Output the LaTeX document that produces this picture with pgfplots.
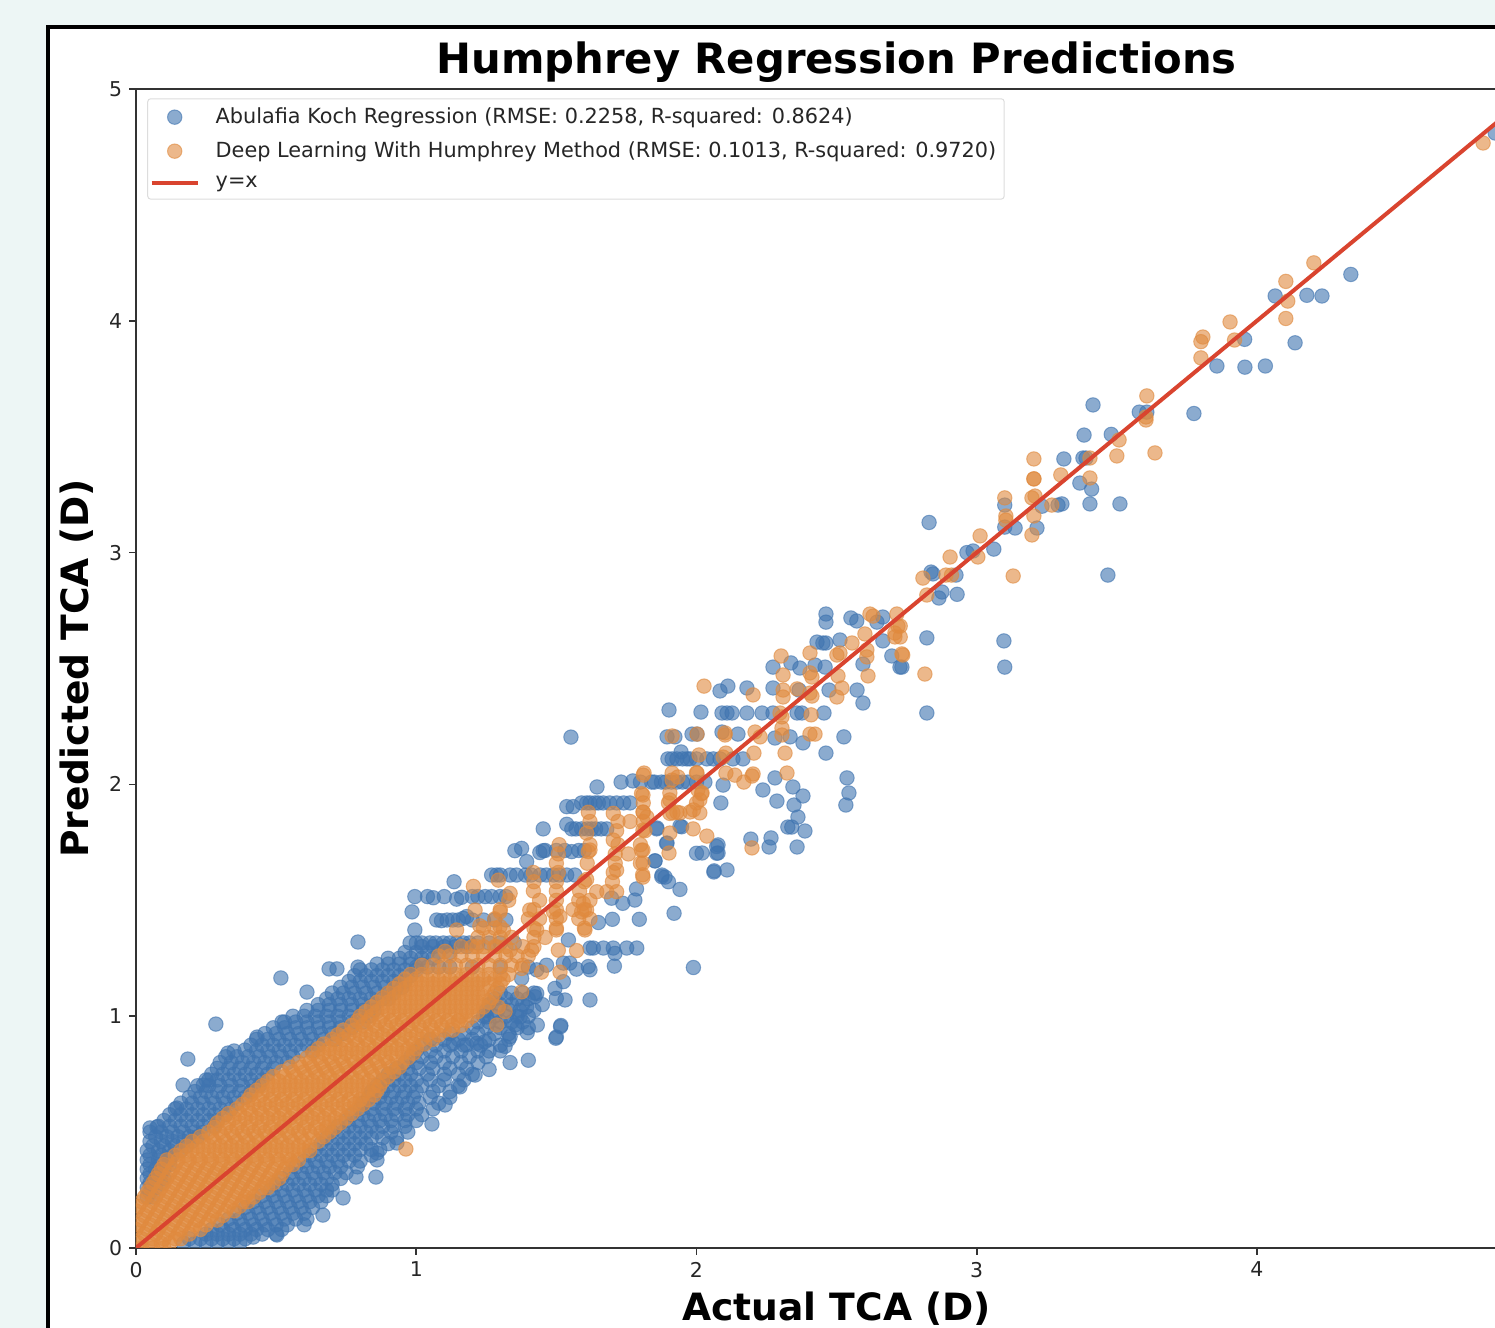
\documentclass[border=0pt]{standalone}
\usepackage{fontspec}
\setmainfont{DejaVu Sans}
\usepackage{pgfplots}
\pgfplotsset{compat=1.18}
\definecolor{bgc}{HTML}{EDF6F5}
\definecolor{bluec}{HTML}{3F74B0}
\definecolor{orangec}{HTML}{E08A3E}
\definecolor{redc}{HTML}{D9442F}
\definecolor{axc}{HTML}{333333}
\definecolor{legc}{HTML}{DDDDDD}
\pgfplotsset{
  markleg/.style={legend image code/.code={\draw[mark repeat=2,mark phase=2,##1] plot coordinates {(-1pt,0pt)(10.5pt,0pt)(22pt,0pt)};}},
  lineleg/.style={legend image code/.code={\draw[##1] (-1pt,0pt) -- (22pt,0pt);}},
}
\begin{document}
\begin{tikzpicture}
\path[use as bounding box,clip] (0,0) rectangle (747.5pt,664pt);
\fill[bgc] (0,0) rectangle (747.5pt,664pt);
\fill[white,draw=black,line width=2pt] (24pt,-5pt) rectangle (760pt,650.5pt);
\begin{axis}[
  at={(68pt,40pt)},anchor=south west,scale only axis,
  width=700.6pt,height=579.5pt,
  xmin=0,xmax=5,ymin=0,ymax=5,
  xtick={0,1,2,3,4},ytick={0,1,2,3,4,5},
  tick align=outside,tick pos=left,
  major tick length=3.4pt,
  axis line style={axc,line width=0.8pt},
  tick style={axc,line width=0.8pt},
  ticklabel style={font=\fontsize{10.2}{12}\selectfont,text=black!85},
  /pgf/number format/assume math mode=true,
  clip marker paths=true,
  title={\fontsize{20.87}{24}\selectfont\bfseries Humphrey Regression Predictions},
  title style={at={(axis description cs:0.5,1)},anchor=south,yshift=-6.5pt},
  xlabel={\fontsize{18.8}{22}\selectfont\bfseries Actual TCA (D)},
  ylabel={\fontsize{18.8}{22}\selectfont\bfseries Predicted TCA (D)},
  xlabel style={at={(axis description cs:0.5,0)},anchor=north,yshift=-18.5pt},
  ylabel style={at={(axis description cs:0,0.5)},anchor=south,yshift=17.5pt},
  legend style={at={(axis cs:0.04,4.96)},anchor=north west,draw=legc,line width=0.5pt,rounded corners=1.5pt,
    font=\fontsize{10.4}{12}\selectfont,text=black!85,inner xsep=1pt,inner ysep=2.5pt,
    row sep=3.6pt},
  legend cell align=left,
]
\addplot[only marks,mark=*,mark size=3.6pt,
  mark options={draw=bluec,fill=bluec,draw opacity=0.6,fill opacity=0.6,line width=0.5pt},markleg]
coordinates {
(3.775,3.60)(3.857,3.805)(3.957,3.80)(4.03,3.805)(4.136,3.905)(3.956,3.92)(4.065,4.107)(4.178,4.11)(4.232,4.107)(4.335,4.20)(4.85,4.81)
(3.415,3.637)(3.58,3.606)(3.607,3.606)(3.383,3.507)(3.48,3.51)(3.311,3.404)(3.379,3.408)(3.39,3.408)(3.368,3.30)(3.41,3.274)(3.404,3.21)(3.511,3.21)(3.468,2.903)(3.304,3.21)(3.29,3.205)(3.233,3.20)(3.10,3.205)(3.215,3.106)(3.137,3.106)(3.10,3.11)(2.83,3.13)(3.061,3.015)(2.987,3.007)(2.965,3.00)(2.926,2.903)(2.837,2.916)(2.844,2.908)(2.93,2.82)(2.876,2.83)(2.865,2.804)(2.822,2.632)(3.097,2.619)(3.10,2.506)(2.733,2.506)(2.822,2.308)
(2.462,2.735)(2.462,2.70)(2.551,2.718)(2.572,2.705)(2.644,2.70)(2.665,2.722)(2.43,2.614)(2.451,2.61)(2.462,2.61)(2.512,2.623)(2.665,2.619)(2.273,2.506)(2.337,2.524)(2.369,2.502)(2.423,2.515)(2.459,2.506)(2.273,2.416)(2.366,2.407)(2.473,2.407)(2.573,2.407)(2.594,2.351)(2.594,2.519)(2.697,2.554)(2.726,2.506)(2.084,2.403)(2.112,2.424)(2.18,2.416)(1.902,2.321)(2.016,2.312)
(2.091,2.308)(2.109,2.308)(2.127,2.308)(2.18,2.308)(2.234,2.308)(2.273,2.308)(2.359,2.308)(2.376,2.308)(2.455,2.308)
(1.895,2.205)(1.923,2.205)(1.984,2.217)(2.002,2.217)(2.091,2.226)(2.148,2.217)(2.28,2.20)(2.334,2.205)(2.38,2.179)(2.526,2.205)(2.462,2.135)(1.945,2.14)
(1.898,2.11)(1.913,2.11)(1.966,2.11)(1.977,2.11)(2.037,2.11)(2.084,2.11)(2.13,2.11)(2.166,2.11)
(2.095,1.997)(2.28,2.028)(2.237,1.976)(2.344,1.989)(2.38,1.95)(2.287,1.928)(2.348,1.911)(2.087,1.92)(2.537,2.028)(2.544,1.963)(2.533,1.911)(2.362,1.859)(2.326,1.816)(2.34,1.816)(2.387,1.799)(2.194,1.764)(2.266,1.769)(2.259,1.73)(2.359,1.73)(2.077,1.739)(2.077,1.704)(2.02,1.704)(2.062,1.622)(2.109,1.631)(1.852,1.67)(1.877,1.609)(1.888,1.60)(1.941,1.82)(1.895,1.747)(1.859,1.812)
(1.80,2.01)(1.84,2.01)(1.875,2.01)(1.91,2.01)(1.95,2.01)(2.0,2.01)(2.03,2.01)
(1.645,1.989)(1.731,2.01)(1.773,2.015)
(1.608,1.92)(1.638,1.92)(1.667,1.92)(1.715,1.92)(1.763,1.92)(1.537,1.904)(1.56,1.904)
(1.453,1.808)(1.537,1.828)(1.555,1.808)(1.59,1.808)(1.625,1.808)(1.66,1.808)(1.858,1.808)
(1.352,1.714)(1.376,1.724)(1.441,1.706)(1.453,1.714)(1.555,1.71)(1.394,1.667)
(1.269,1.609)(1.287,1.609)(1.335,1.609)(1.358,1.609)(1.442,1.609)(1.465,1.609)(1.537,1.609)(1.566,1.609)
(1.135,1.58)(0.995,1.516)(1.061,1.511)(1.10,1.516)(1.162,1.513)(1.144,1.505)(1.246,1.516)(1.269,1.516)(1.299,1.516)(0.985,1.45)(1.073,1.415)(1.09,1.412)(1.168,1.422)(1.18,1.43)
(0.978,1.316)(1.0,1.316)(1.049,1.316)(1.097,1.316)(1.144,1.316)(1.168,1.316)(0.995,1.372)(0.792,1.32)
(1.30,1.609)(1.39,1.609)(1.41,1.609)(1.49,1.609)(1.51,1.609)(1.04,1.516)(1.20,1.516)(1.22,1.516)(1.32,1.516)
(1.11,1.415)(1.13,1.415)(1.15,1.415)(1.20,1.415)(1.24,1.415)(1.28,1.415)(1.32,1.415)(1.46,1.715)(1.50,1.715)(1.53,1.715)(1.58,1.715)(1.60,1.715)
(1.57,1.808)(1.61,1.808)(1.64,1.808)(1.68,1.808)(1.59,1.92)(1.62,1.92)(1.65,1.92)(1.69,1.92)(1.74,1.92)
(1.02,1.316)(1.07,1.316)(1.12,1.316)(1.19,1.316)(1.22,1.316)(1.26,1.316)(1.30,1.316)(1.35,1.316)
(1.00,1.212)(1.04,1.212)(1.08,1.212)(1.12,1.212)(1.20,1.212)(1.30,1.212)(1.40,1.212)(1.85,2.01)(1.89,2.01)(1.93,2.01)(1.97,2.01)(1.93,2.11)(1.95,2.11)(2.00,2.11)(2.06,2.11)
(1.65,1.404)(1.7,1.418)(1.796,1.418)(1.92,1.444)(1.941,1.547)(1.786,1.549)(1.78,1.501)(1.737,1.487)(1.697,1.509)(1.876,1.602)(1.9,1.58)(1.852,1.67)(2.0,1.703)(2.063,1.627)(2.072,1.703)(2.072,1.732)(1.893,1.746)(1.947,1.817)(1.552,2.204)
(1.543,1.329)(1.62,1.294)(1.632,1.294)(1.668,1.294)(1.703,1.294)(1.751,1.294)(1.787,1.294)(1.709,1.271)(1.707,1.216)(1.989,1.21)(1.614,1.214)(1.62,1.2)(1.572,1.203)(1.548,1.229)(1.525,1.229)(1.465,1.22)(1.43,1.2)(1.376,1.163)(1.525,1.149)(1.495,1.12)(1.5,1.077)(1.531,1.07)(1.43,1.098)(1.424,1.084)(1.62,1.07)(1.515,0.955)(1.498,0.905)(1.394,1.04)(1.371,0.997)(1.432,0.962)(1.396,0.929)(1.352,0.962)(1.335,0.912)(1.317,0.87)(1.245,0.89)(1.251,0.997)(1.132,0.883)(1.18,0.876)(1.216,0.883)
(0.517,1.165)(0.61,1.104)(0.285,0.966)(0.185,0.815)(0.168,0.703)(0.24,0.703)(0.26,0.725)(0.689,1.204)(0.717,1.204)(0.792,1.212)(0.521,0.975)(0.432,0.91)(0.328,0.841)(0.389,0.854)(0.05,0.518)(0.075,0.522)(0.146,0.604)
(1.056,0.535)(0.931,0.453)(0.86,0.41)(0.86,0.38)(0.785,0.306)(0.856,0.306)(0.739,0.216)(0.667,0.142)(1.103,0.617)(1.156,0.695)(1.21,0.746)(0.503,0.056)(0.418,0.047)
(0.04,0.22)(0.06,0.22)(0.04,0.26)(0.07,0.26)(0.04,0.30)(0.07,0.30)(0.10,0.30)(0.04,0.34)(0.07,0.34)(0.10,0.34)(0.04,0.38)(0.08,0.38)(0.12,0.38)
(0.04,0.42)(0.08,0.42)(0.12,0.42)(0.16,0.42)(0.05,0.46)(0.09,0.46)(0.13,0.46)(0.17,0.46)(0.20,0.46)(0.05,0.50)(0.09,0.50)(0.13,0.50)(0.17,0.50)(0.21,0.50)(0.24,0.50)
(0.10,0.55)(0.14,0.55)(0.18,0.55)(0.22,0.55)(0.26,0.55)(0.29,0.55)(0.14,0.60)(0.18,0.60)(0.22,0.60)(0.26,0.60)(0.30,0.60)(0.34,0.60)
(0.19,0.65)(0.23,0.65)(0.27,0.65)(0.31,0.65)(0.35,0.65)(0.39,0.65)(0.22,0.70)(0.26,0.70)(0.30,0.70)(0.34,0.70)(0.38,0.70)(0.42,0.70)(0.44,0.70)
(0.27,0.75)(0.31,0.75)(0.35,0.75)(0.39,0.75)(0.43,0.75)(0.47,0.75)(0.30,0.80)(0.34,0.80)(0.38,0.80)(0.42,0.80)(0.46,0.80)(0.50,0.80)(0.54,0.80)
(0.35,0.85)(0.43,0.85)(0.47,0.85)(0.51,0.85)(0.55,0.85)(0.59,0.85)(0.63,0.85)(0.43,0.90)(0.47,0.90)(0.51,0.90)(0.55,0.90)(0.59,0.90)(0.63,0.90)(0.67,0.90)(0.71,0.90)
(0.49,0.95)(0.53,0.95)(0.57,0.95)(0.61,0.95)(0.65,0.95)(0.69,0.95)(0.73,0.95)(0.77,0.95)(0.56,1.00)(0.60,1.00)(0.64,1.00)(0.68,1.00)(0.72,1.00)(0.76,1.00)(0.80,1.00)(0.83,1.00)
(0.65,1.05)(0.69,1.05)(0.73,1.05)(0.77,1.05)(0.81,1.05)(0.85,1.05)(0.70,1.10)(0.74,1.10)(0.78,1.10)(0.82,1.10)(0.86,1.10)(0.90,1.10)(0.92,1.10)
(0.76,1.15)(0.80,1.15)(0.84,1.15)(0.88,1.15)(0.92,1.15)(0.96,1.15)(0.80,1.20)(0.84,1.20)(0.88,1.20)(0.92,1.20)(0.96,1.20)(1.00,1.20)
(0.90,1.25)(0.94,1.25)(0.98,1.25)(1.02,1.25)(1.06,1.25)(1.02,1.30)(1.06,1.30)(1.10,1.30)(1.14,1.30)(1.18,1.30)
(0.05,0.24)(0.05,0.28)(0.09,0.28)(0.05,0.32)(0.09,0.32)(0.05,0.36)(0.09,0.36)(0.12,0.36)(0.05,0.40)(0.09,0.40)(0.13,0.40)(0.06,0.44)(0.10,0.44)(0.14,0.44)(0.18,0.44)
(0.07,0.48)(0.11,0.48)(0.15,0.48)(0.19,0.48)(0.22,0.48)(0.08,0.525)(0.12,0.525)(0.16,0.525)(0.20,0.525)(0.24,0.525)(0.28,0.525)(0.12,0.575)(0.16,0.575)(0.20,0.575)(0.24,0.575)(0.28,0.575)(0.32,0.575)
(0.16,0.625)(0.20,0.625)(0.24,0.625)(0.28,0.625)(0.32,0.625)(0.36,0.625)(0.21,0.675)(0.25,0.675)(0.29,0.675)(0.33,0.675)(0.37,0.675)(0.41,0.675)(0.25,0.725)(0.29,0.725)(0.33,0.725)(0.37,0.725)(0.41,0.725)(0.45,0.725)
(0.29,0.775)(0.33,0.775)(0.37,0.775)(0.41,0.775)(0.45,0.775)(0.49,0.775)(0.32,0.825)(0.36,0.825)(0.40,0.825)(0.44,0.825)(0.48,0.825)(0.52,0.825)(0.56,0.825)
(0.41,0.875)(0.45,0.875)(0.49,0.875)(0.53,0.875)(0.57,0.875)(0.61,0.875)(0.65,0.875)(0.46,0.925)(0.50,0.925)(0.54,0.925)(0.58,0.925)(0.62,0.925)(0.66,0.925)(0.70,0.925)(0.74,0.925)
(0.53,0.975)(0.57,0.975)(0.61,0.975)(0.65,0.975)(0.69,0.975)(0.73,0.975)(0.77,0.975)(0.81,0.975)(0.61,1.025)(0.65,1.025)(0.69,1.025)(0.73,1.025)(0.77,1.025)(0.81,1.025)(0.85,1.025)
(0.68,1.075)(0.72,1.075)(0.76,1.075)(0.80,1.075)(0.84,1.075)(0.88,1.075)(0.90,1.075)(0.73,1.125)(0.77,1.125)(0.81,1.125)(0.85,1.125)(0.89,1.125)(0.93,1.125)(0.95,1.125)
(0.78,1.175)(0.82,1.175)(0.86,1.175)(0.90,1.175)(0.94,1.175)(0.98,1.175)(0.86,1.225)(0.90,1.225)(0.94,1.225)(0.98,1.225)(1.02,1.225)(0.96,1.275)(1.00,1.275)(1.04,1.275)(1.08,1.275)(1.12,1.275)
(0.17,0.02)(0.21,0.02)(0.25,0.02)(0.29,0.02)(0.33,0.02)(0.37,0.02)(0.25,0.06)(0.29,0.06)(0.33,0.06)(0.37,0.06)(0.41,0.06)(0.45,0.06)(0.50,0.06)
(0.30,0.10)(0.34,0.10)(0.38,0.10)(0.42,0.10)(0.46,0.10)(0.50,0.10)(0.54,0.10)(0.60,0.10)(0.36,0.15)(0.40,0.15)(0.44,0.15)(0.48,0.15)(0.52,0.15)(0.56,0.15)(0.60,0.15)
(0.42,0.20)(0.46,0.20)(0.50,0.20)(0.54,0.20)(0.58,0.20)(0.62,0.20)(0.66,0.20)(0.48,0.25)(0.52,0.25)(0.56,0.25)(0.60,0.25)(0.64,0.25)(0.68,0.25)(0.70,0.25)
(0.52,0.30)(0.56,0.30)(0.60,0.30)(0.64,0.30)(0.68,0.30)(0.73,0.30)(0.57,0.35)(0.61,0.35)(0.65,0.35)(0.69,0.35)(0.73,0.35)(0.79,0.35)
(0.62,0.40)(0.66,0.40)(0.70,0.40)(0.74,0.40)(0.78,0.40)(0.84,0.40)(0.66,0.45)(0.70,0.45)(0.74,0.45)(0.78,0.45)(0.82,0.45)(0.90,0.45)
(0.70,0.50)(0.74,0.50)(0.78,0.50)(0.82,0.50)(0.86,0.50)(0.91,0.50)(0.97,0.50)(0.75,0.55)(0.79,0.55)(0.83,0.55)(0.87,0.55)(0.91,0.55)(0.96,0.55)(1.00,0.55)
(0.80,0.60)(0.84,0.60)(0.88,0.60)(0.92,0.60)(0.96,0.60)(1.00,0.60)(1.06,0.60)(0.83,0.65)(0.87,0.65)(0.91,0.65)(0.95,0.65)(0.99,0.65)(1.05,0.65)(1.12,0.65)
(0.86,0.70)(0.90,0.70)(0.94,0.70)(0.98,0.70)(1.02,0.70)(1.08,0.70)(1.15,0.70)(0.90,0.75)(0.94,0.75)(0.98,0.75)(1.04,0.75)(1.10,0.75)(1.15,0.75)(1.20,0.75)(1.26,0.77)
(0.96,0.80)(1.00,0.80)(1.05,0.80)(1.10,0.80)(1.16,0.80)(1.22,0.80)(1.335,0.80)(1.40,0.81)(1.00,0.85)(1.05,0.85)(1.10,0.85)(1.16,0.85)(1.22,0.85)(1.26,0.85)(1.30,0.85)
(1.05,0.90)(1.10,0.90)(1.15,0.90)(1.20,0.90)(1.26,0.90)(1.33,0.90)(1.50,0.91)(1.516,0.96)(1.20,0.95)(1.25,0.95)(1.30,0.95)(1.36,0.95)(1.40,0.95)
(1.24,1.00)(1.28,1.00)(1.32,1.00)(1.36,1.00)(1.40,1.00)(1.26,1.05)(1.30,1.05)(1.34,1.05)(1.38,1.05)(1.45,1.05)(1.30,1.10)(1.34,1.10)(1.38,1.10)(1.42,1.10)
(0.19,0.04)(0.23,0.04)(0.27,0.04)(0.31,0.04)(0.35,0.04)(0.39,0.04)(0.27,0.08)(0.31,0.08)(0.35,0.08)(0.39,0.08)(0.43,0.08)(0.47,0.08)(0.52,0.08)
(0.33,0.125)(0.37,0.125)(0.41,0.125)(0.45,0.125)(0.49,0.125)(0.53,0.125)(0.57,0.125)(0.61,0.125)(0.39,0.175)(0.43,0.175)(0.47,0.175)(0.51,0.175)(0.55,0.175)(0.59,0.175)(0.63,0.175)
(0.45,0.225)(0.49,0.225)(0.53,0.225)(0.57,0.225)(0.61,0.225)(0.65,0.225)(0.68,0.225)(0.50,0.275)(0.54,0.275)(0.58,0.275)(0.62,0.275)(0.66,0.275)(0.70,0.275)
(0.55,0.325)(0.59,0.325)(0.63,0.325)(0.67,0.325)(0.71,0.325)(0.75,0.325)(0.60,0.375)(0.64,0.375)(0.68,0.375)(0.72,0.375)(0.76,0.375)(0.80,0.375)
(0.64,0.425)(0.68,0.425)(0.72,0.425)(0.76,0.425)(0.80,0.425)(0.84,0.425)(0.87,0.425)(0.68,0.475)(0.72,0.475)(0.76,0.475)(0.80,0.475)(0.84,0.475)(0.88,0.475)(0.93,0.475)
(0.72,0.525)(0.76,0.525)(0.80,0.525)(0.84,0.525)(0.88,0.525)(0.92,0.525)(0.96,0.525)(0.77,0.575)(0.81,0.575)(0.85,0.575)(0.89,0.575)(0.93,0.575)(0.97,0.575)(1.02,0.575)
(0.81,0.625)(0.85,0.625)(0.89,0.625)(0.93,0.625)(0.97,0.625)(1.01,0.625)(1.08,0.625)(0.84,0.675)(0.88,0.675)(0.92,0.675)(0.96,0.675)(1.00,0.675)(1.06,0.675)(1.12,0.675)
(0.88,0.725)(0.92,0.725)(0.96,0.725)(1.00,0.725)(1.05,0.725)(1.10,0.725)(1.17,0.725)(0.93,0.775)(0.97,0.775)(1.01,0.775)(1.06,0.775)(1.12,0.775)(1.18,0.775)
(0.98,0.825)(1.02,0.825)(1.07,0.825)(1.13,0.825)(1.19,0.825)(1.25,0.825)(1.02,0.875)(1.07,0.875)(1.12,0.875)(1.17,0.875)(1.23,0.875)(1.30,0.875)
(1.12,0.925)(1.17,0.925)(1.22,0.925)(1.28,0.925)(1.33,0.925)(1.22,0.975)(1.26,0.975)(1.30,0.975)(1.34,0.975)(1.38,0.975)(1.25,1.025)(1.29,1.025)(1.33,1.025)(1.37,1.025)(1.42,1.025)(1.28,1.075)(1.32,1.075)(1.36,1.075)(1.40,1.075)
};
\addlegendentry{\hspace*{6pt}Abulafia Koch Regression (RMSE: 0.2258, R-squared: 0.8624)}
\addplot[only marks,mark=*,mark size=3.6pt,
  mark options={draw=orangec,fill=orangec,draw opacity=0.6,fill opacity=0.6,line width=0.5pt},markleg]
coordinates {
(4.807,4.767)(4.203,4.25)(4.103,4.17)(4.11,4.085)(4.103,4.01)(3.904,3.995)(3.92,3.917)(3.807,3.93)(3.80,3.91)(3.80,3.84)
(3.607,3.676)(3.604,3.572)(3.604,3.585)(3.508,3.486)(3.50,3.417)(3.636,3.43)(3.204,3.404)(3.204,3.318)(3.204,3.318)(3.30,3.335)(3.404,3.408)(3.404,3.322)(3.208,3.244)(3.197,3.236)(3.10,3.236)(3.204,3.158)(3.104,3.158)(3.104,3.14)(3.268,3.205)(3.197,3.076)(3.012,3.072)(2.905,2.981)(3.004,2.981)(2.808,2.89)(2.91,2.903)(2.89,2.903)(3.13,2.899)(2.822,2.817)(2.727,2.683)(2.727,2.636)(2.736,2.558)(2.815,2.476)
(2.619,2.735)(2.63,2.726)(2.715,2.735)(2.719,2.683)(2.708,2.653)(2.708,2.636)(2.601,2.649)(2.555,2.61)(2.512,2.567)(2.501,2.558)(2.405,2.567)(2.302,2.554)(2.608,2.58)(2.608,2.55)(2.733,2.563)(2.612,2.468)(2.505,2.468)(2.405,2.481)(2.412,2.463)(2.309,2.472)(2.519,2.416)(2.501,2.377)(2.412,2.381)(2.405,2.394)(2.309,2.407)(2.309,2.377)(2.359,2.412)(2.202,2.386)(2.027,2.424)(2.298,2.308)(2.305,2.291)(2.409,2.30)(2.305,2.243)(2.305,2.213)(2.405,2.217)(2.423,2.217)(2.209,2.226)(2.227,2.205)(2.102,2.213)(2.102,2.222)(2.002,2.217)(1.913,2.209)(2.205,2.135)(2.316,2.135)(2.105,2.135)(2.095,2.118)(2.009,2.127)(2.323,2.049)(2.202,2.045)(2.198,2.036)(2.169,2.01)(2.137,2.04)(2.105,2.049)(1.813,2.049)(1.913,2.049)(1.913,2.019)(1.934,2.032)(2.002,2.049)(2.005,1.976)(2.02,1.963)(2.012,1.933)(1.905,1.963)(1.905,1.933)(1.809,1.954)(2.012,1.877)(1.977,1.881)(1.916,1.877)(1.941,1.877)(1.809,1.881)(1.823,1.859)(1.988,1.808)(2.037,1.777)(1.905,1.79)(1.902,1.704)(2.198,1.726)(1.809,1.803)(1.809,1.717)(1.809,1.661)(1.809,1.60)
(1.204,1.56)(1.81,2.04)(1.804,1.96)(1.81,1.88)(1.905,1.875)(1.93,1.88)(2.0,2.05)(2.018,1.96)(1.989,1.89)(1.614,1.88)(1.703,1.875)(1.763,1.84)(1.608,1.79)(1.715,1.8)(1.703,1.76)(1.816,1.8)(1.804,1.716)(1.757,1.7)(1.614,1.71)(1.62,1.717)(1.71,1.7)(1.715,1.63)(1.703,1.62)(1.808,1.61)(1.507,1.7)(1.507,1.62)(1.418,1.62)(1.293,1.587)(1.418,1.54)(1.5,1.54)(1.583,1.54)(1.644,1.537)(1.68,1.537)(1.715,1.537)(1.335,1.53)(1.608,1.59)(1.596,1.487)(1.405,1.458)(1.49,1.45)(1.513,1.43)(1.59,1.45)(1.608,1.458)(1.299,1.45)(1.21,1.458)(1.43,1.372)(1.5,1.372)(1.602,1.372)(1.144,1.372)(1.311,1.372)(1.227,1.39)(1.299,1.387)(1.412,1.285)(1.507,1.285)(1.572,1.283)(1.216,1.3)(1.287,1.3)(1.335,1.285)(1.103,1.28)(1.447,1.19)(1.513,1.19)(1.376,1.206)(1.376,1.105)(1.293,1.04)(1.317,1.02)(1.287,0.962)(0.963,0.427)
(1.02,1.22)(1.06,1.22)(1.10,1.22)(1.14,1.22)(1.18,1.22)(1.22,1.22)(1.26,1.22)(1.30,1.22)(1.34,1.22)(1.38,1.22)(1.08,1.26)(1.12,1.26)(1.16,1.26)(1.20,1.26)(1.24,1.26)(1.28,1.26)(1.32,1.26)(1.36,1.26)(1.40,1.26)
(1.16,1.30)(1.20,1.30)(1.24,1.30)(1.28,1.30)(1.32,1.30)(1.38,1.30)(1.42,1.30)(1.22,1.34)(1.26,1.34)(1.30,1.34)(1.34,1.34)(1.42,1.34)(1.46,1.34)(1.24,1.38)(1.28,1.38)(1.42,1.38)(1.50,1.38)(1.60,1.38)
(1.28,1.42)(1.40,1.42)(1.44,1.42)(1.50,1.42)(1.58,1.42)(1.62,1.42)(1.30,1.46)(1.42,1.46)(1.50,1.46)(1.56,1.46)(1.60,1.46)(1.33,1.50)(1.44,1.50)(1.50,1.50)(1.58,1.50)(1.62,1.50)
(1.42,1.58)(1.50,1.58)(1.60,1.58)(1.70,1.58)(1.50,1.66)(1.61,1.66)(1.71,1.66)(1.80,1.66)(1.51,1.74)(1.62,1.74)(1.72,1.74)(1.80,1.74)(1.62,1.84)(1.72,1.84)(1.81,1.84)(1.81,1.92)(1.90,1.92)(2.00,1.92)
(0.01,0.02)(0.05,0.02)(0.09,0.02)(0.12,0.02)
(0.03,0.06)(0.07,0.06)(0.11,0.06)(0.15,0.06)(0.19,0.06)
(0.01,0.10)(0.05,0.10)(0.09,0.10)(0.13,0.10)(0.17,0.10)(0.21,0.10)(0.25,0.10)
(0.03,0.14)(0.07,0.14)(0.11,0.14)(0.15,0.14)(0.19,0.14)(0.23,0.14)(0.27,0.14)(0.31,0.14)
(0.01,0.18)(0.05,0.18)(0.09,0.18)(0.13,0.18)(0.17,0.18)(0.21,0.18)(0.25,0.18)(0.29,0.18)(0.33,0.18)(0.37,0.18)
(0.03,0.22)(0.07,0.22)(0.11,0.22)(0.15,0.22)(0.19,0.22)(0.23,0.22)(0.27,0.22)(0.31,0.22)(0.35,0.22)(0.39,0.22)(0.42,0.22)
(0.05,0.26)(0.09,0.26)(0.13,0.26)(0.17,0.26)(0.21,0.26)(0.25,0.26)(0.29,0.26)(0.33,0.26)(0.37,0.26)(0.41,0.26)(0.45,0.26)(0.47,0.26)
(0.07,0.30)(0.11,0.30)(0.15,0.30)(0.19,0.30)(0.23,0.30)(0.27,0.30)(0.31,0.30)(0.35,0.30)(0.39,0.30)(0.43,0.30)(0.47,0.30)(0.51,0.30)
(0.09,0.34)(0.13,0.34)(0.17,0.34)(0.21,0.34)(0.25,0.34)(0.29,0.34)(0.33,0.34)(0.37,0.34)(0.41,0.34)(0.45,0.34)(0.49,0.34)(0.53,0.34)
(0.11,0.38)(0.15,0.38)(0.19,0.38)(0.23,0.38)(0.27,0.38)(0.31,0.38)(0.35,0.38)(0.39,0.38)(0.43,0.38)(0.47,0.38)(0.51,0.38)(0.55,0.38)(0.58,0.38)
(0.16,0.42)(0.20,0.42)(0.24,0.42)(0.28,0.42)(0.32,0.42)(0.36,0.42)(0.40,0.42)(0.44,0.42)(0.48,0.42)(0.52,0.42)(0.56,0.42)(0.60,0.42)(0.62,0.42)
(0.20,0.46)(0.24,0.46)(0.28,0.46)(0.32,0.46)(0.36,0.46)(0.40,0.46)(0.44,0.46)(0.48,0.46)(0.52,0.46)(0.56,0.46)(0.60,0.46)(0.65,0.46)
(0.26,0.50)(0.30,0.50)(0.34,0.50)(0.38,0.50)(0.42,0.50)(0.46,0.50)(0.50,0.50)(0.54,0.50)(0.58,0.50)(0.62,0.50)(0.66,0.50)(0.69,0.50)
(0.29,0.54)(0.33,0.54)(0.37,0.54)(0.41,0.54)(0.45,0.54)(0.49,0.54)(0.53,0.54)(0.57,0.54)(0.61,0.54)(0.65,0.54)(0.69,0.54)(0.73,0.54)
(0.33,0.58)(0.37,0.58)(0.41,0.58)(0.45,0.58)(0.49,0.58)(0.53,0.58)(0.57,0.58)(0.61,0.58)(0.65,0.58)(0.69,0.58)(0.73,0.58)(0.77,0.58)
(0.38,0.62)(0.42,0.62)(0.46,0.62)(0.50,0.62)(0.54,0.62)(0.58,0.62)(0.62,0.62)(0.66,0.62)(0.70,0.62)(0.74,0.62)(0.78,0.62)(0.81,0.62)
(0.41,0.66)(0.45,0.66)(0.49,0.66)(0.53,0.66)(0.57,0.66)(0.61,0.66)(0.65,0.66)(0.69,0.66)(0.73,0.66)(0.77,0.66)(0.81,0.66)(0.85,0.66)
(0.45,0.70)(0.49,0.70)(0.53,0.70)(0.57,0.70)(0.61,0.70)(0.65,0.70)(0.69,0.70)(0.73,0.70)(0.77,0.70)(0.81,0.70)(0.85,0.70)(0.87,0.70)
(0.49,0.74)(0.53,0.74)(0.57,0.74)(0.61,0.74)(0.65,0.74)(0.69,0.74)(0.73,0.74)(0.77,0.74)(0.81,0.74)(0.85,0.74)(0.90,0.74)
(0.55,0.78)(0.59,0.78)(0.63,0.78)(0.67,0.78)(0.71,0.78)(0.75,0.78)(0.79,0.78)(0.83,0.78)(0.87,0.78)(0.91,0.78)(0.94,0.78)
(0.61,0.82)(0.65,0.82)(0.69,0.82)(0.73,0.82)(0.77,0.82)(0.81,0.82)(0.85,0.82)(0.89,0.82)(0.93,0.82)(0.97,0.82)
(0.65,0.86)(0.69,0.86)(0.73,0.86)(0.77,0.86)(0.81,0.86)(0.85,0.86)(0.89,0.86)(0.93,0.86)(0.97,0.86)(1.00,0.86)
(0.70,0.90)(0.74,0.90)(0.78,0.90)(0.82,0.90)(0.86,0.90)(0.90,0.90)(0.94,0.90)(0.98,0.90)(1.02,0.90)(1.06,0.90)
(0.74,0.94)(0.78,0.94)(0.82,0.94)(0.86,0.94)(0.90,0.94)(0.94,0.94)(0.98,0.94)(1.02,0.94)(1.06,0.94)(1.10,0.94)(1.13,0.94)
(0.79,0.98)(0.83,0.98)(0.87,0.98)(0.91,0.98)(0.95,0.98)(0.99,0.98)(1.03,0.98)(1.07,0.98)(1.11,0.98)(1.15,0.98)(1.18,0.98)
(0.82,1.02)(0.86,1.02)(0.90,1.02)(0.94,1.02)(0.98,1.02)(1.02,1.02)(1.06,1.02)(1.10,1.02)(1.14,1.02)(1.18,1.02)(1.22,1.02)
(0.86,1.06)(0.90,1.06)(0.94,1.06)(0.98,1.06)(1.02,1.06)(1.06,1.06)(1.10,1.06)(1.14,1.06)(1.18,1.06)(1.22,1.06)(1.26,1.06)
(0.90,1.10)(0.94,1.10)(0.98,1.10)(1.02,1.10)(1.06,1.10)(1.10,1.10)(1.14,1.10)(1.18,1.10)(1.22,1.10)(1.28,1.10)
(0.94,1.14)(0.98,1.14)(1.02,1.14)(1.06,1.14)(1.10,1.14)(1.14,1.14)(1.18,1.14)(1.22,1.14)(1.26,1.14)(1.30,1.14)
(0.98,1.18)(1.02,1.18)(1.06,1.18)(1.10,1.18)(1.14,1.18)(1.18,1.18)(1.22,1.18)(1.26,1.18)(1.30,1.18)(1.33,1.18)
(0.02,0.00)(0.06,0.00)(0.10,0.00)(0.02,0.04)(0.06,0.04)(0.10,0.04)(0.14,0.04)(0.16,0.04)
(0.00,0.08)(0.04,0.08)(0.08,0.08)(0.12,0.08)(0.16,0.08)(0.20,0.08)(0.23,0.08)
(0.02,0.12)(0.06,0.12)(0.10,0.12)(0.14,0.12)(0.18,0.12)(0.22,0.12)(0.26,0.12)(0.29,0.12)
(0.00,0.16)(0.04,0.16)(0.08,0.16)(0.12,0.16)(0.16,0.16)(0.20,0.16)(0.24,0.16)(0.28,0.16)(0.32,0.16)(0.35,0.16)
(0.02,0.20)(0.06,0.20)(0.10,0.20)(0.14,0.20)(0.18,0.20)(0.22,0.20)(0.26,0.20)(0.30,0.20)(0.34,0.20)(0.38,0.20)(0.40,0.20)
(0.04,0.24)(0.08,0.24)(0.12,0.24)(0.16,0.24)(0.20,0.24)(0.24,0.24)(0.28,0.24)(0.32,0.24)(0.36,0.24)(0.40,0.24)(0.44,0.24)
(0.06,0.28)(0.10,0.28)(0.14,0.28)(0.18,0.28)(0.22,0.28)(0.26,0.28)(0.30,0.28)(0.34,0.28)(0.38,0.28)(0.42,0.28)(0.46,0.28)(0.49,0.28)
(0.08,0.32)(0.12,0.32)(0.16,0.32)(0.20,0.32)(0.24,0.32)(0.28,0.32)(0.32,0.32)(0.36,0.32)(0.40,0.32)(0.44,0.32)(0.48,0.32)(0.52,0.32)
(0.10,0.36)(0.14,0.36)(0.18,0.36)(0.22,0.36)(0.26,0.36)(0.30,0.36)(0.34,0.36)(0.38,0.36)(0.42,0.36)(0.46,0.36)(0.50,0.36)(0.54,0.36)(0.56,0.36)
(0.14,0.40)(0.18,0.40)(0.22,0.40)(0.26,0.40)(0.30,0.40)(0.34,0.40)(0.38,0.40)(0.42,0.40)(0.46,0.40)(0.50,0.40)(0.54,0.40)(0.58,0.40)
(0.18,0.44)(0.22,0.44)(0.26,0.44)(0.30,0.44)(0.34,0.44)(0.38,0.44)(0.42,0.44)(0.46,0.44)(0.50,0.44)(0.54,0.44)(0.58,0.44)(0.62,0.44)
(0.23,0.48)(0.27,0.48)(0.31,0.48)(0.35,0.48)(0.39,0.48)(0.43,0.48)(0.47,0.48)(0.51,0.48)(0.55,0.48)(0.59,0.48)(0.63,0.48)(0.67,0.48)
(0.28,0.52)(0.32,0.52)(0.36,0.52)(0.40,0.52)(0.44,0.52)(0.48,0.52)(0.52,0.52)(0.56,0.52)(0.60,0.52)(0.64,0.52)(0.68,0.52)(0.71,0.52)
(0.31,0.56)(0.35,0.56)(0.39,0.56)(0.43,0.56)(0.47,0.56)(0.51,0.56)(0.55,0.56)(0.59,0.56)(0.63,0.56)(0.67,0.56)(0.71,0.56)(0.75,0.56)
(0.36,0.60)(0.40,0.60)(0.44,0.60)(0.48,0.60)(0.52,0.60)(0.56,0.60)(0.60,0.60)(0.64,0.60)(0.68,0.60)(0.72,0.60)(0.76,0.60)(0.79,0.60)
(0.40,0.64)(0.44,0.64)(0.48,0.64)(0.52,0.64)(0.56,0.64)(0.60,0.64)(0.64,0.64)(0.68,0.64)(0.72,0.64)(0.76,0.64)(0.80,0.64)(0.83,0.64)
(0.43,0.68)(0.47,0.68)(0.51,0.68)(0.55,0.68)(0.59,0.68)(0.63,0.68)(0.67,0.68)(0.71,0.68)(0.75,0.68)(0.79,0.68)(0.83,0.68)(0.86,0.68)
(0.47,0.72)(0.51,0.72)(0.55,0.72)(0.59,0.72)(0.63,0.72)(0.67,0.72)(0.71,0.72)(0.75,0.72)(0.79,0.72)(0.83,0.72)(0.88,0.72)
(0.52,0.76)(0.56,0.76)(0.60,0.76)(0.64,0.76)(0.68,0.76)(0.72,0.76)(0.76,0.76)(0.80,0.76)(0.84,0.76)(0.88,0.76)(0.92,0.76)
(0.58,0.80)(0.62,0.80)(0.66,0.80)(0.70,0.80)(0.74,0.80)(0.78,0.80)(0.82,0.80)(0.86,0.80)(0.90,0.80)(0.95,0.80)
(0.63,0.84)(0.67,0.84)(0.71,0.84)(0.75,0.84)(0.79,0.84)(0.83,0.84)(0.87,0.84)(0.91,0.84)(0.95,0.84)(0.99,0.84)
(0.67,0.88)(0.71,0.88)(0.75,0.88)(0.79,0.88)(0.83,0.88)(0.87,0.88)(0.91,0.88)(0.95,0.88)(0.99,0.88)(1.03,0.88)
(0.72,0.92)(0.76,0.92)(0.80,0.92)(0.84,0.92)(0.88,0.92)(0.92,0.92)(0.96,0.92)(1.00,0.92)(1.04,0.92)(1.08,0.92)
(0.77,0.96)(0.81,0.96)(0.85,0.96)(0.89,0.96)(0.93,0.96)(0.97,0.96)(1.01,0.96)(1.05,0.96)(1.09,0.96)(1.13,0.96)(1.16,0.96)
(0.80,1.00)(0.84,1.00)(0.88,1.00)(0.92,1.00)(0.96,1.00)(1.00,1.00)(1.04,1.00)(1.08,1.00)(1.12,1.00)(1.16,1.00)(1.20,1.00)
(0.84,1.04)(0.88,1.04)(0.92,1.04)(0.96,1.04)(1.00,1.04)(1.04,1.04)(1.08,1.04)(1.12,1.04)(1.16,1.04)(1.20,1.04)(1.24,1.04)
(0.88,1.08)(0.92,1.08)(0.96,1.08)(1.00,1.08)(1.04,1.08)(1.08,1.08)(1.12,1.08)(1.16,1.08)(1.20,1.08)(1.24,1.08)(1.27,1.08)
(0.92,1.12)(0.96,1.12)(1.00,1.12)(1.04,1.12)(1.08,1.12)(1.12,1.12)(1.16,1.12)(1.20,1.12)(1.24,1.12)(1.29,1.12)
(0.96,1.16)(1.00,1.16)(1.04,1.16)(1.08,1.16)(1.12,1.16)(1.16,1.16)(1.20,1.16)(1.24,1.16)(1.28,1.16)(1.31,1.16)
};
\addlegendentry{\hspace*{6pt}Deep Learning With Humphrey Method (RMSE: 0.1013, R-squared: 0.9720)\hspace*{1pt}}
\addplot[redc,line width=2pt,lineleg] coordinates {(0,0)(5,5)};
\addlegendentry{\hspace*{6pt}y=x}
\end{axis}
\end{tikzpicture}
\end{document}
